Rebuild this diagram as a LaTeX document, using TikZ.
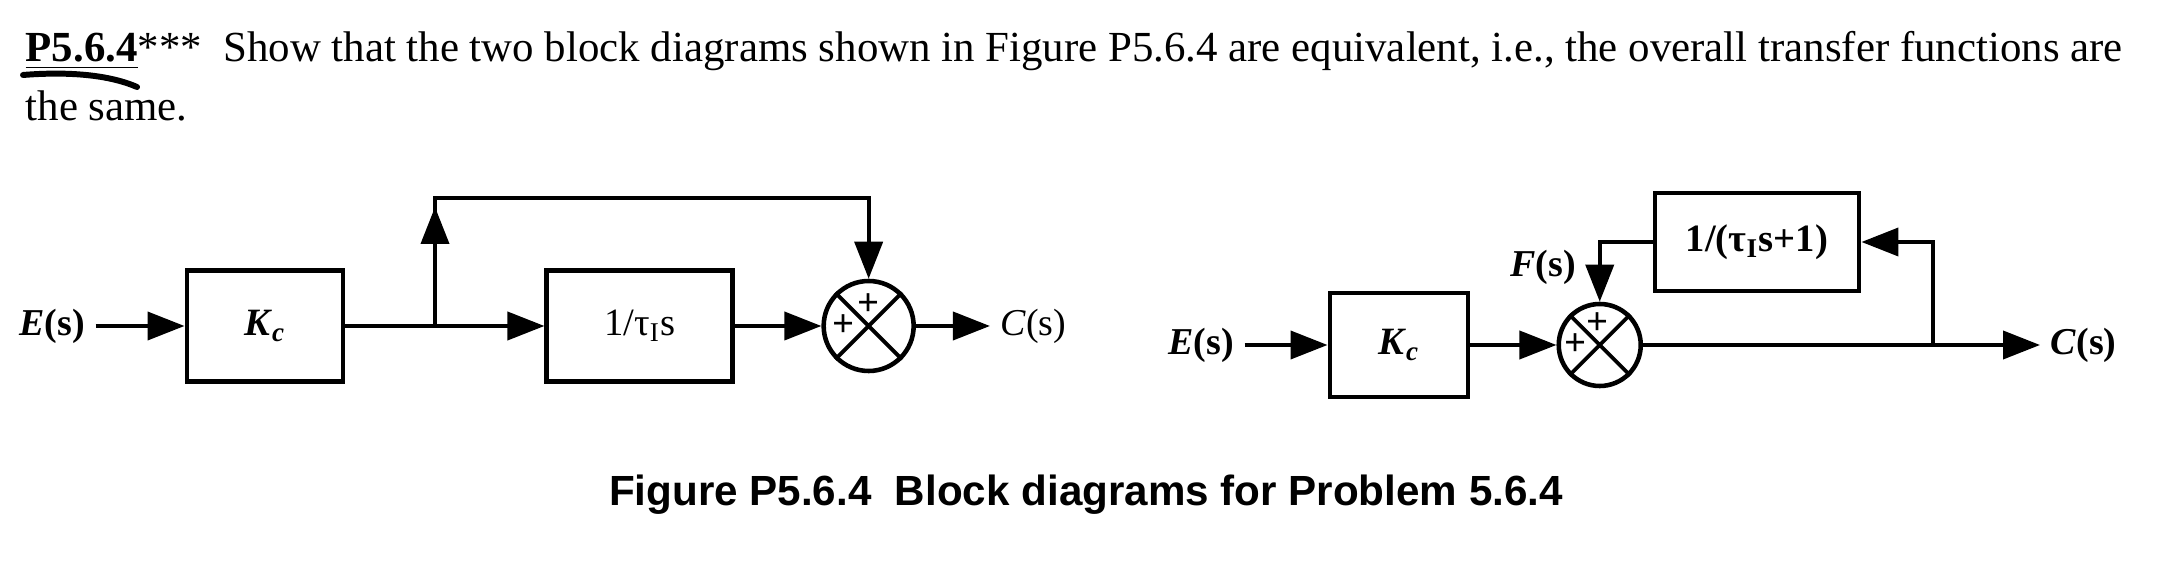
\documentclass[tikz,border=0pt]{standalone}
\usepackage{fontspec}
\setmainfont{Liberation Serif}
\newfontfamily\capfont{Liberation Sans}
\usepackage{tikz}
\usetikzlibrary{arrows.meta,positioning,calc}

\newcommand{\kcsym}{\textbf{\textit{K}\textsubscript{\textit{c}}}}

\begin{document}
\begin{tikzpicture}[
    block/.style={rectangle, draw, line width=1.4pt, inner sep=0pt, font=\fontsize{11}{13}\selectfont},
    sumnode/.style={circle, draw, line width=1.3pt, inner sep=0pt},
    lbl/.style={inner sep=0.1cm, font=\fontsize{10.8}{12}\selectfont},
    sign/.style={inner sep=0pt, font=\fontsize{11}{11}\selectfont\bfseries},
    arrow/.style={-{Triangle[length=0.37cm,width=0.28cm]}, line width=1.1pt},
    xline/.style={line width=1.1pt}
]
\useasboundingbox (0,0) rectangle (21.64,-5.78);

% problem text
\node[anchor=base west, inner sep=0pt, font=\fontsize{12.2}{14}\selectfont] (prob) at (0.25,-0.62)
    {\textbf{\underline{P5.6.4}}***\ \ Show that the two block diagrams shown in Figure P5.6.4 are equivalent, i.e., the overall transfer functions are};
\node[anchor=base west, inner sep=0pt, font=\fontsize{12.2}{14}\selectfont] (same) at (0.25,-1.21) {the same.};
\draw[line width=1.7pt, line cap=round] (0.23,-0.75) .. controls (0.60,-0.72) and (1.05,-0.73) .. (1.37,-0.87);

% left diagram
\node[block, minimum width=1.56cm, minimum height=1.11cm] (kc1) at (2.65,-3.26) {\kcsym};
\node[lbl, left=0.89cm of kc1] (e1) {\textbf{\textit{E}(s)}};
\node[block, minimum width=1.86cm, minimum height=1.11cm, right=1.99cm of kc1] (integ) {1/τ\textsubscript{I}s};
\node[sumnode, minimum size=0.9cm, right=0.86cm of integ] (sum1) {};
\node[lbl, right=0.74cm of sum1] (c1) {\textit{C}(s)};
\node[sign] (p1a) at ($(sum1.center)+(-0.25,0)$) {+};
\node[sign] (p1b) at ($(sum1.center)+(0,0.21)$) {+};
\coordinate (br1) at ($(kc1.east)!0.45!(integ.west)$);
\coordinate (up1) at ($(br1)+(0,1.19)$);
\coordinate (top1) at ($(br1)+(0,1.28)$);

\draw[xline] (sum1.north west) -- (sum1.south east) (sum1.north east) -- (sum1.south west);
\draw[arrow] (e1) -- (kc1);
\draw[arrow] (kc1) -- (integ);
\draw[arrow] (br1) -- (up1);
\draw[arrow] (br1) -- (top1) -| (sum1.north);
\draw[arrow] (integ) -- (sum1);
\draw[arrow] (sum1) -- (c1);

% right diagram
\node[block, minimum width=1.38cm, minimum height=1.04cm] (kc2) at (13.99,-3.45) {\kcsym};
\node[lbl, left=0.83cm of kc2] (e2) {\textbf{\textit{E}(s)}};
\node[sumnode, minimum size=0.82cm, right=0.86cm of kc2] (sum2) {};
\node[block, minimum width=2.04cm, minimum height=0.98cm] (fbk) at (17.57,-2.42) {\textbf{1/(τ\textsubscript{I}s+1)}};
\node[lbl, right=3.97cm of sum2] (c2) {\textbf{\textit{C}(s)}};
\node[lbl] (f2) at (15.43,-2.67) {\textbf{\textit{F}(s)}};
\node[sign] (p2a) at ($(sum2.center)+(-0.24,0)$) {+};
\node[sign] (p2b) at ($(sum2.center)+(-0.02,0.21)$) {+};
\coordinate (br2) at (19.33,-3.45);

\draw[xline] (sum2.north west) -- (sum2.south east) (sum2.north east) -- (sum2.south west);
\draw[arrow] (e2) -- (kc2);
\draw[arrow] (kc2) -- (sum2);
\draw[arrow] (sum2) -- (c2);
\draw[arrow] (br2) |- (fbk);
\draw[arrow] (fbk) -| (sum2.north);

% caption
\node[anchor=base, inner sep=0pt, font=\capfont\bfseries\fontsize{12}{14}\selectfont] (cap) at (10.86,-5.06)
    {Figure P5.6.4\ \ Block diagrams for Problem 5.6.4};
\end{tikzpicture}
\end{document}
